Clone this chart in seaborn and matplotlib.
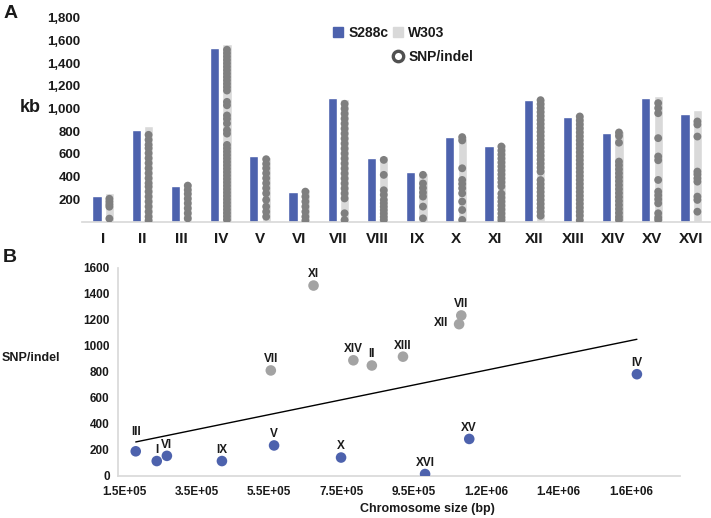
import numpy as np
import pandas as pd
import seaborn as sns
import matplotlib.pyplot as plt
from matplotlib.patches import Patch
from matplotlib.lines import Line2D
from matplotlib.ticker import FuncFormatter

# ---- panel A data (kb) ----
chromosomes = ['I', 'II', 'III', 'IV', 'V', 'VI', 'VII', 'VIII',
               'IX', 'X', 'XI', 'XII', 'XIII', 'XIV', 'XV', 'XVI']
s288c_kb = [230, 814, 319, 1537, 578, 268, 1095, 564,
            442, 750, 673, 1080, 926, 785, 1091, 950]
w303_kb = [253, 843, 342, 1575, 573, 289, 1088, 578,
           431, 761, 684, 1088, 941, 799, 1115, 991]
# SNP/indel positions along each W303 chromosome (kb)
snp_kb = [
    [205, 180, 155, 135, 30],
    [769, 725, 681, 651, 607, 563, 519, 474, 430, 386, 342, 312, 268, 224,
     180, 136, 91, 47, 12],
    [321, 283, 248, 206, 165, 121, 77, 32],
    [1520, 1490, 1460, 1430, 1400, 1370, 1340, 1310, 1280, 1250, 1220, 1190,
     1160, 1060, 1030, 940, 910, 870, 810, 780, 680, 650, 620, 590, 560,
     530, 500, 470, 440, 410, 380, 350, 320, 290, 260, 230, 200, 170, 140,
     110, 80, 50, 20],
    [554, 513, 474, 430, 386, 342, 298, 253, 195, 136, 91, 47],
    [268, 224, 180, 136, 91, 47, 12],
    [1043, 1000, 956, 912, 868, 824, 780, 736, 692, 648, 604, 560, 516, 472,
     428, 384, 340, 296, 252, 208, 77, 18],
    [548, 416, 280, 240, 195, 165, 135, 105, 75, 45, 18],
    [416, 340, 300, 260, 224, 136, 32],
    [749, 720, 474, 371, 336, 298, 253, 180, 106, 18],
    [666, 630, 595, 560, 525, 490, 455, 420, 385, 350, 315, 250, 215, 180,
     145, 110, 75, 40, 15],
    [1075, 1040, 1005, 970, 935, 900, 865, 830, 795, 760, 725, 690, 655,
     620, 585, 550, 515, 480, 445, 370, 335, 300, 265, 230, 195, 160, 125,
     90, 55],
    [931, 896, 861, 826, 791, 756, 721, 686, 651, 616, 581, 546, 511, 476,
     441, 406, 371, 336, 301, 266, 231, 196, 161, 126, 91, 56, 15],
    [790, 760, 700, 533, 500, 465, 430, 395, 360, 325, 290, 255, 220, 185,
     150, 115, 80, 45, 18],
    [1049, 1005, 960, 740, 578, 545, 371, 268, 235, 200, 165, 77, 40, 18],
    [887, 860, 754, 445, 420, 385, 356, 224, 195, 91],
]
kb_ticks = [200, 400, 600, 800, 1000, 1200, 1400, 1600, 1800]

# ---- panel B data ----
b_labels = ['III', 'I', 'VI', 'IX', 'V', 'X', 'XVI', 'XV', 'IV',
            'VII', 'XI', 'XIV', 'II', 'XIII', 'XII', 'VII']
b_size_bp = [182e3, 240e3, 268e3, 420e3, 564e3, 749e3, 981e3, 1103e3, 1566e3,
             555e3, 673e3, 783e3, 834e3, 920e3, 1075e3, 1081e3]
b_snp = [190, 115, 155, 115, 235, 142, 15, 285, 783,
         812, 1465, 890, 850, 918, 1168, 1235]
b_group = ['low'] * 9 + ['high'] * 7
b_xticks = [1.5e5, 3.5e5, 5.5e5, 7.5e5, 9.5e5, 1.15e6, 1.35e6, 1.55e6]
b_xticklabels = ['1.5E+05', '3.5E+05', '5.5E+05', '7.5E+05', '9.5E+05',
                 '1.2E+06', '1.4E+06', '1.6E+06']
b_yticks = [0, 200, 400, 600, 800, 1000, 1200, 1400, 1600]

BLUE = '#4d62ad'
LIGHT = '#d9d9d9'
DOT = '#7f7f7f'
GREYPT = '#a3a3a3'
TXT = '#1a1a1a'
AXLINE = '#d9d9d9'

sns.set_theme(style='white')
plt.rcParams['font.family'] = ['Liberation Sans', 'DejaVu Sans']
plt.rcParams['font.weight'] = 'bold'
plt.rcParams['text.color'] = TXT

W, H = 711, 518
fig = plt.figure(figsize=(W / 100, H / 100), dpi=100)


def px_axes(left, top, right, bottom):
    return fig.add_axes([left / W, 1 - bottom / H, (right - left) / W, (bottom - top) / H])


# ================= panel A =================
axA = px_axes(82, 18, 710, 222)
bars = pd.DataFrame({
    'pos': list(range(len(chromosomes))) * 2,
    'kb': s288c_kb + w303_kb,
    'strain': ['S288c'] * len(chromosomes) + ['W303'] * len(chromosomes),
})
bar_width = 0.632
sns.barplot(data=bars, x='pos', y='kb', hue='strain', native_scale=True,
            palette={'S288c': BLUE, 'W303': LIGHT}, width=bar_width, gap=0.25,
            saturation=1, errorbar=None, legend=False, ax=axA)

snp = pd.DataFrame([(i + bar_width / 4, kb) for i, vals in enumerate(snp_kb) for kb in vals],
                   columns=['x', 'kb'])
sns.scatterplot(data=snp, x='x', y='kb', color=DOT, s=32, edgecolor='none',
                linewidth=0, ax=axA, zorder=3)

axA.set_xlim(-0.54, 15.48)
axA.set_ylim(0, 1800)
axA.set_xticks(range(len(chromosomes)), chromosomes)
axA.set_yticks(kb_ticks)
axA.yaxis.set_major_formatter(FuncFormatter(lambda v, p: f'{int(v):,}'))
axA.set_xlabel('')
axA.set_ylabel('')
for s in ['top', 'right', 'left']:
    axA.spines[s].set_visible(False)
axA.spines['bottom'].set_color(AXLINE)
axA.tick_params(axis='x', length=0, pad=7, labelsize=11, labelcolor=TXT)
axA.tick_params(axis='y', length=0, pad=1, labelsize=9.5, labelcolor=TXT)
for t in axA.get_xticklabels() + axA.get_yticklabels():
    t.set_fontweight('bold')

handles = [
    Patch(color=BLUE, label='S288c'),
    Patch(color='none', label=''),
    Patch(color=LIGHT, label='W303'),
    Line2D([], [], marker='o', ls='none', mfc='white', mec='#505050', mew=2.4,
           ms=7.5, label='SNP/indel'),
]
fig.legend(handles=handles, ncol=2, loc='upper left', frameon=False,
           bbox_to_anchor=(333 / W, 1 - 26 / H), bbox_transform=fig.transFigure,
           borderpad=0, borderaxespad=0, handlelength=0.7, handleheight=0.7,
           handletextpad=0.4, columnspacing=0.35, labelspacing=0.7,
           prop={'weight': 'bold', 'size': 10})

fig.text(20 / W, 1 - 108 / H, 'kb', fontsize=13, fontweight='bold', ha='left', va='center')
fig.text(4 / W, 1 - 13 / H, 'A', fontsize=14, fontweight='bold', ha='left', va='center')

# ================= panel B =================
axB = px_axes(118, 268, 680, 476)
pts = pd.DataFrame({'label': b_labels, 'size': b_size_bp, 'snp': b_snp, 'group': b_group})
sns.scatterplot(data=pts, x='size', y='snp', hue='group',
                palette={'low': BLUE, 'high': GREYPT}, s=58, edgecolor='none',
                linewidth=0, legend=False, ax=axB, zorder=3)
sns.regplot(data=pts, x='size', y='snp', scatter=False, ci=None, truncate=True,
            line_kws={'color': 'black', 'lw': 1}, ax=axB)

label_offsets = {'III': (0, 14), 'XII': (-13, 1)}
for _, r in pts.iterrows():
    off = label_offsets.get(r['label'], (0, 8))
    axB.annotate(r['label'], (r['size'], r['snp']), xytext=off, textcoords='offset points',
                 ha='center', va='center', fontsize=8.5, fontweight='bold', color=TXT)

axB.set_xlim(133e3, 1.685e6)
axB.set_ylim(0, 1600)
axB.set_xticks(b_xticks, b_xticklabels)
axB.set_yticks(b_yticks)
axB.set_xlabel('')
axB.set_ylabel('')
for s in ['top', 'right']:
    axB.spines[s].set_visible(False)
for s in ['left', 'bottom']:
    axB.spines[s].set_color(AXLINE)
axB.tick_params(axis='x', length=0, pad=7, labelsize=8.5, labelcolor=TXT)
axB.tick_params(axis='y', length=0, pad=6, labelsize=8.5, labelcolor=TXT)
for t in axB.get_xticklabels() + axB.get_yticklabels():
    t.set_fontweight('bold')

fig.text(31 / W, 1 - 358 / H, 'SNP/indel', fontsize=9, fontweight='bold', ha='center', va='center')
fig.text(427 / W, 1 - 509 / H, 'Chromosome size (bp)', fontsize=9, fontweight='bold',
         ha='center', va='center')
fig.text(3 / W, 1 - 258 / H, 'B', fontsize=14, fontweight='bold', ha='left', va='center')

fig.savefig('out.png', dpi=100)
